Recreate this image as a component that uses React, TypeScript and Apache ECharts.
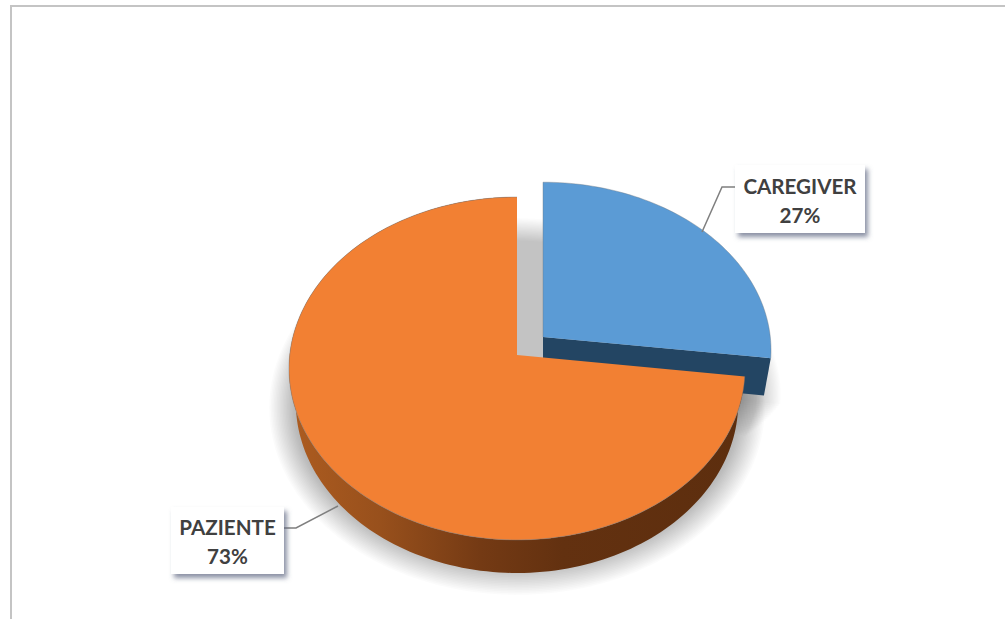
import React, { useEffect, useRef } from "react";
import * as echarts from "echarts";

const categories = ["CAREGIVER", "PAZIENTE"];
const values = [27, 73];

// Perspective model of the pie disc
const PERSPECTIVE = 0.0787;
const TOP = { cx: 517, cy: 355, rx: 227.3, ry: 170.4 };
const BOTTOM = { cx: 517, cy: 389, rx: 220.5, ry: 169.5 };
const EXPLODE = [
  { dx: 26, dy: -18, ryScale: 0.98, extraDepth: 3 },
  { dx: 0, dy: 0, ryScale: 1, extraDepth: 0 },
];
const SHADOW = [
  { cx: 506, cy: 380, rx: 262, ry: 163, blur: 12, alpha: 0.0105, padFrom: 0, padTo: 14 },
  { cx: 517, cy: 393, rx: 233, ry: 172, blur: 14, alpha: 0.015, padFrom: -8, padTo: 0 },
];
const SHADOW_LAYERS = 20;
const LABELS = [
  { box: [735, 165, 130, 68], rows: [21, 50], line: [[702, 232], [722, 187], [735, 187]] },
  { box: [171, 507, 113, 67], rows: [20, 49], line: [[338, 506], [296, 528], [284, 528]] },
];
const TOP_COLORS = ["#5b9bd5", "#f28033"];
const FRAME_COLOR = "#c4c4c4";
const STEPS = 240;

type Disc = { cx: number; cy: number; rx: number; ry: number };

function project(d: Disc, deg: number, ox = 0, oy = 0): number[] {
  const a = (deg * Math.PI) / 180;
  const u = Math.sin(a);
  const v = -Math.cos(a);
  const w = 1 - PERSPECTIVE * v;
  return [d.cx + ox + (d.rx * u) / w, d.cy + oy + (d.ry * v) / w];
}

function arc(d: Disc, from: number, to: number, ox = 0, oy = 0): number[][] {
  const pts: number[][] = [];
  const n = Math.max(2, Math.round((STEPS * (to - from)) / 360));
  for (let i = 0; i <= n; i++) pts.push(project(d, from + ((to - from) * i) / n, ox, oy));
  return pts;
}

function spans(): [number, number][] {
  const total = values.reduce((s, v) => s + v, 0);
  let acc = 0;
  return values.map((v) => {
    const s: [number, number] = [(acc / total) * 360, ((acc + v) / total) * 360];
    acc += v;
    return s;
  });
}

function renderShadow(params: any) {
  const i = params.dataIndex;
  const [from, to] = spans()[i];
  const s = SHADOW[i];
  const children: any[] = [];
  for (let l = 0; l < SHADOW_LAYERS; l++) {
    const t = l / (SHADOW_LAYERS - 1) - 0.5;
    const d = { cx: s.cx, cy: s.cy, rx: s.rx - t * 2 * s.blur, ry: s.ry - t * 2 * s.blur };
    const end = to + (s.padTo * (l + 1)) / SHADOW_LAYERS;
    children.push({
      type: "polygon",
      shape: { points: [[s.cx, s.cy], ...arc(d, from + s.padFrom, end)] },
      style: { fill: `rgba(0,0,0,${s.alpha})` },
      silent: true,
    });
  }
  return { type: "group", children };
}

function renderSlice(params: any) {
  const i = params.dataIndex;
  const [from, to] = spans()[i];
  const { dx, dy, ryScale, extraDepth } = EXPLODE[i];
  const children: any[] = [];
  const top = { ...TOP, ry: TOP.ry * ryScale };
  const apexTop = [TOP.cx + dx, TOP.cy + dy];
  const apexBottom = [BOTTOM.cx + dx, BOTTOM.cy + dy + extraDepth];
  const topArc = arc(top, from, to, dx, dy);
  if (i === 0) {
    const tipT = topArc[topArc.length - 1];
    const tipB = project(BOTTOM, to, dx, dy + extraDepth);
    children.push({
      type: "polygon",
      shape: { points: [apexTop, tipT, tipB, apexBottom] },
      style: { fill: "#234563" },
    });
  } else {
    const bottomArc = arc(BOTTOM, from, to, dx, dy);
    children.push({
      type: "polygon",
      shape: { points: [...topArc, ...bottomArc.slice().reverse()] },
      style: {
        fill: new echarts.graphic.LinearGradient(0, 0, 1, 0, [
          { offset: 0, color: "#ad5c20" },
          { offset: 0.2, color: "#98501c" },
          { offset: 0.42, color: "#743a14" },
          { offset: 0.6, color: "#633110" },
          { offset: 1, color: "#5d2e0e" },
        ]),
      },
    });
  }
  children.push({
    type: "polygon",
    shape: { points: [apexTop, ...topArc] },
    style: { fill: TOP_COLORS[i] },
  });
  children.push({
    type: "polyline",
    shape: { points: i === 0 ? [apexTop, ...topArc] : topArc },
    style: { fill: "none", stroke: "rgba(110,120,130,0.4)", lineWidth: 1 },
  });
  return { type: "group", children };
}

function renderLabel(params: any) {
  const i = params.dataIndex;
  const total = values.reduce((s, v) => s + v, 0);
  const { box, line, rows } = LABELS[i];
  const [x, y, w, h] = box;
  const font = 'bold 20.6px Lato, "Open Sans", sans-serif';
  return {
    type: "group",
    children: [
      {
        type: "polyline",
        shape: { points: line },
        style: { fill: "none", stroke: "#7f7f7f", lineWidth: 1.5 },
      },
      {
        type: "rect",
        shape: { x, y, width: w, height: h },
        style: {
          fill: "#ffffff",
          shadowBlur: 5,
          shadowColor: "rgba(90,100,125,0.7)",
          shadowOffsetX: 3,
          shadowOffsetY: 4,
        },
      },
      {
        type: "text",
        style: {
          text: categories[i],
          x: x + w / 2,
          y: y + rows[0],
          align: "center",
          verticalAlign: "middle",
          fill: "#404040",
          font,
        },
      },
      {
        type: "text",
        style: {
          text: `${Math.round((values[i] / total) * 100)}%`,
          x: x + w / 2,
          y: y + rows[1],
          align: "center",
          verticalAlign: "middle",
          fill: "#404040",
          font,
        },
      },
    ],
  };
}

export default function App() {
  const ref = useRef<HTMLDivElement>(null);
  useEffect(() => {
    if (!ref.current) return;
    document.body.style.margin = "0";
    document.body.style.overflow = "hidden";
    const chart = echarts.init(ref.current, undefined, { renderer: "svg" });
    const data = values.map((value, i) => ({ name: categories[i], value }));
    chart.setOption({
      animation: false,
      backgroundColor: "#ffffff",
      tooltip: { show: false },
      graphic: [
        {
          type: "polyline",
          silent: true,
          z: -10,
          shape: { points: [[11, 619], [11, 6], [1005, 6]] },
          style: { fill: "none", stroke: FRAME_COLOR, lineWidth: 2 },
        },
      ],
      series: [
        { type: "custom", coordinateSystem: "none", silent: true, clip: false, z: 1, data, renderItem: renderShadow },
        { type: "custom", coordinateSystem: "none", silent: true, clip: false, z: 2, data, renderItem: renderSlice },
        { type: "custom", coordinateSystem: "none", silent: true, clip: false, z: 3, data, renderItem: renderLabel },
      ],
    });
    return () => chart.dispose();
  }, []);
  return <div ref={ref} style={{ width: 1005, height: 619, background: "#fff" }} />;
}
